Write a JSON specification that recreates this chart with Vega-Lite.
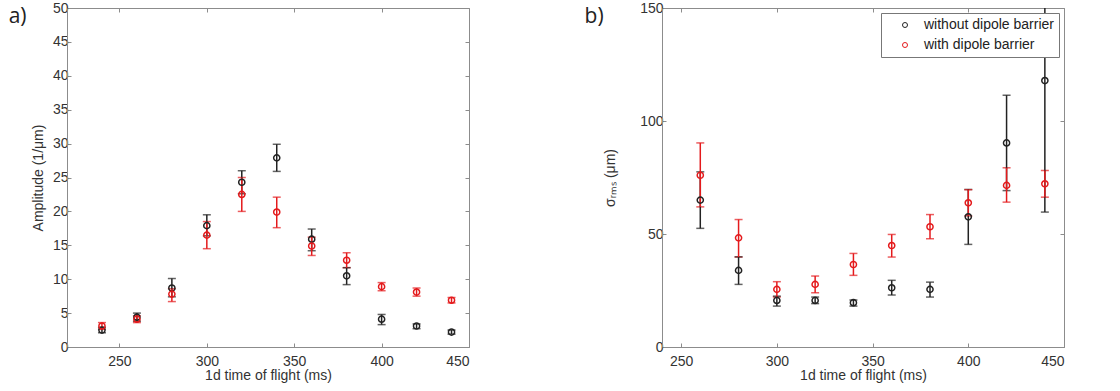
{
  "$schema": "https://vega.github.io/schema/vega-lite/v6.json",
  "padding": {"left": 8, "top": 0, "right": 5, "bottom": 5},
  "spacing": 114,
  "config": {
    "font": "Liberation Sans",
    "view": {"stroke": "#8c8c8c", "strokeWidth": 1},
    "axis": {
      "grid": false,
      "domainColor": "#8c8c8c",
      "tickColor": "#8c8c8c",
      "tickSize": -4,
      "labelPadding": 11,
      "labelFontSize": 14,
      "labelColor": "#333333",
      "titleFontSize": 14,
      "titleFontWeight": "normal",
      "titleColor": "#333333",
      "titlePadding": 0
    },
    "legend": {
      "orient": "top-right",
      "offset": 5,
      "padding": 5,
      "strokeColor": "#777777",
      "fillColor": "white",
      "labelFontSize": 14,
      "labelColor": "#222222",
      "symbolSize": 25,
      "symbolStrokeWidth": 1,
      "symbolType": "circle",
      "rowPadding": 6,
      "symbolOffset": 12,
      "labelOffset": 12
    }
  },
  "datasets": {
    "a": [
      {"t": 240, "s": "without dipole barrier", "v": 2.5, "lo": 2.1, "hi": 2.9},
      {"t": 260, "s": "without dipole barrier", "v": 4.4, "lo": 3.8, "hi": 5.0},
      {"t": 280, "s": "without dipole barrier", "v": 8.7, "lo": 7.4, "hi": 10.1},
      {"t": 300, "s": "without dipole barrier", "v": 17.9, "lo": 16.4, "hi": 19.5},
      {"t": 320, "s": "without dipole barrier", "v": 24.3, "lo": 22.6, "hi": 26.0},
      {"t": 340, "s": "without dipole barrier", "v": 27.9, "lo": 25.9, "hi": 29.9},
      {"t": 360, "s": "without dipole barrier", "v": 15.9, "lo": 14.2, "hi": 17.4},
      {"t": 380, "s": "without dipole barrier", "v": 10.5, "lo": 9.2, "hi": 11.7},
      {"t": 400, "s": "without dipole barrier", "v": 4.1, "lo": 3.3, "hi": 4.8},
      {"t": 420, "s": "without dipole barrier", "v": 3.1, "lo": 2.7, "hi": 3.4},
      {"t": 440, "s": "without dipole barrier", "v": 2.2, "lo": 1.9, "hi": 2.5},
      {"t": 240, "s": "with dipole barrier", "v": 3.1, "lo": 2.6, "hi": 3.6},
      {"t": 260, "s": "with dipole barrier", "v": 4.1, "lo": 3.6, "hi": 4.6},
      {"t": 280, "s": "with dipole barrier", "v": 7.8, "lo": 6.7, "hi": 8.6},
      {"t": 300, "s": "with dipole barrier", "v": 16.5, "lo": 14.5, "hi": 18.5},
      {"t": 320, "s": "with dipole barrier", "v": 22.5, "lo": 20.0, "hi": 25.0},
      {"t": 340, "s": "with dipole barrier", "v": 19.9, "lo": 17.6, "hi": 22.1},
      {"t": 360, "s": "with dipole barrier", "v": 14.9, "lo": 13.5, "hi": 16.2},
      {"t": 380, "s": "with dipole barrier", "v": 12.8, "lo": 11.7, "hi": 13.9},
      {"t": 400, "s": "with dipole barrier", "v": 8.9, "lo": 8.3, "hi": 9.5},
      {"t": 420, "s": "with dipole barrier", "v": 8.1, "lo": 7.5, "hi": 8.7},
      {"t": 440, "s": "with dipole barrier", "v": 6.9, "lo": 6.5, "hi": 7.3}
    ],
    "b": [
      {"t": 260, "s": "without dipole barrier", "v": 65.0, "lo": 52.5, "hi": 77.5},
      {"t": 280, "s": "without dipole barrier", "v": 33.9, "lo": 27.7, "hi": 39.9},
      {"t": 300, "s": "without dipole barrier", "v": 20.6, "lo": 18.1, "hi": 22.5},
      {"t": 320, "s": "without dipole barrier", "v": 20.6, "lo": 19.2, "hi": 22.1},
      {"t": 340, "s": "without dipole barrier", "v": 19.6, "lo": 18.1, "hi": 20.8},
      {"t": 360, "s": "without dipole barrier", "v": 26.2, "lo": 23.0, "hi": 29.5},
      {"t": 380, "s": "without dipole barrier", "v": 25.5, "lo": 22.1, "hi": 28.7},
      {"t": 400, "s": "without dipole barrier", "v": 57.6, "lo": 45.4, "hi": 69.7},
      {"t": 420, "s": "without dipole barrier", "v": 90.3, "lo": 69.2, "hi": 111.4},
      {"t": 440, "s": "without dipole barrier", "v": 117.9, "lo": 59.7, "hi": 176.1},
      {"t": 260, "s": "with dipole barrier", "v": 76.0, "lo": 62.0, "hi": 90.3},
      {"t": 280, "s": "with dipole barrier", "v": 48.3, "lo": 39.8, "hi": 56.4},
      {"t": 300, "s": "with dipole barrier", "v": 25.5, "lo": 22.1, "hi": 28.9},
      {"t": 320, "s": "with dipole barrier", "v": 27.7, "lo": 24.0, "hi": 31.4},
      {"t": 340, "s": "with dipole barrier", "v": 36.5, "lo": 31.7, "hi": 41.4},
      {"t": 360, "s": "with dipole barrier", "v": 44.9, "lo": 39.8, "hi": 49.8},
      {"t": 380, "s": "with dipole barrier", "v": 53.2, "lo": 47.9, "hi": 58.6},
      {"t": 400, "s": "with dipole barrier", "v": 63.8, "lo": 58.0, "hi": 69.6},
      {"t": 420, "s": "with dipole barrier", "v": 71.5, "lo": 64.1, "hi": 79.3},
      {"t": 440, "s": "with dipole barrier", "v": 72.2, "lo": 66.3, "hi": 78.1}
    ]
  },
  "hconcat": [
    {
      "width": 402,
      "height": 339,
      "data": {"name": "a"},
      "title": {"text": "a)", "orient": "left", "anchor": "end", "angle": 0, "fontSize": 21, "fontWeight": "normal", "font": "Open Sans", "baseline": "top", "align": "right", "offset": -13, "dy": 5, "color": "#222222"},
      "layer": [
        {
          "mark": {"type": "errorbar", "ticks": {"size": 8}, "thickness": 1.5},
          "encoding": {
            "x": {"field": "t", "type": "quantitative", "scale": {"domain": [220, 450], "nice": false, "zero": false}, "axis": {"values": [250, 300, 350, 400, 450], "title": "1d time of flight (ms)"}},
            "y": {"field": "lo", "type": "quantitative", "scale": {"domain": [0, 50], "nice": false}, "axis": {"values": [0, 5, 10, 15, 20, 25, 30, 35, 40, 45, 50], "title": "Amplitude (1/μm)", "labelPadding": 3, "titlePadding": 7}},
            "y2": {"field": "hi"},
            "color": {"field": "s", "type": "nominal", "scale": {"domain": ["without dipole barrier", "with dipole barrier"], "range": ["#222222", "#e41a1c"]}, "legend": null}
          }
        },
        {
          "mark": {"type": "point", "shape": "circle", "filled": false, "size": 38, "strokeWidth": 1.5, "opacity": 1},
          "encoding": {
            "x": {"field": "t", "type": "quantitative", "axis": null},
            "y": {"field": "v", "type": "quantitative", "axis": null},
            "color": {"field": "s", "type": "nominal", "scale": {"domain": ["without dipole barrier", "with dipole barrier"], "range": ["#222222", "#e41a1c"]}, "legend": {"title": null}}
          }
        },
        {
          "mark": {"type": "point", "opacity": 0},
          "encoding": {
            "x": {"field": "t", "type": "quantitative", "axis": {"orient": "top", "values": [250, 300, 350, 400, 450], "labels": false, "title": null, "domain": false}},
            "y": {"field": "v", "type": "quantitative", "axis": {"orient": "right", "values": [0, 5, 10, 15, 20, 25, 30, 35, 40, 45, 50], "labels": false, "title": null, "domain": false}}
          }
        }
      ],
      "resolve": {"axis": {"x": "independent", "y": "independent"}}
    },
    {
      "width": 402,
      "height": 339,
      "data": {"name": "b"},
      "title": {"text": "b)", "orient": "left", "anchor": "end", "angle": 0, "fontSize": 21, "fontWeight": "normal", "font": "Open Sans", "baseline": "top", "align": "right", "offset": -19, "dy": 5, "color": "#222222"},
      "layer": [
        {
          "mark": {"type": "errorbar", "ticks": {"size": 8}, "thickness": 1.5, "clip": true},
          "encoding": {
            "x": {"field": "t", "type": "quantitative", "scale": {"domain": [240, 450], "nice": false, "zero": false}, "axis": {"values": [250, 300, 350, 400, 450], "title": "1d time of flight (ms)"}},
            "y": {"field": "lo", "type": "quantitative", "scale": {"domain": [0, 150], "nice": false}, "axis": {"values": [0, 50, 100, 150], "title": "σᵣₘₛ (μm)", "titlePadding": 22, "labelPadding": 3}},
            "y2": {"field": "hi"},
            "color": {"field": "s", "type": "nominal", "scale": {"domain": ["without dipole barrier", "with dipole barrier"], "range": ["#222222", "#e41a1c"]}, "legend": null}
          }
        },
        {
          "mark": {"type": "point", "shape": "circle", "filled": false, "size": 38, "strokeWidth": 1.5, "opacity": 1, "clip": true},
          "encoding": {
            "x": {"field": "t", "type": "quantitative", "axis": null},
            "y": {"field": "v", "type": "quantitative", "axis": null},
            "color": {"field": "s", "type": "nominal", "scale": {"domain": ["without dipole barrier", "with dipole barrier"], "range": ["#222222", "#e41a1c"]}, "legend": {"title": null}}
          }
        },
        {
          "mark": {"type": "point", "opacity": 0},
          "encoding": {
            "x": {"field": "t", "type": "quantitative", "axis": {"orient": "top", "values": [250, 300, 350, 400, 450], "labels": false, "title": null, "domain": false}},
            "y": {"field": "v", "type": "quantitative", "axis": {"orient": "right", "values": [0, 50, 100, 150], "labels": false, "title": null, "domain": false}}
          }
        }
      ],
      "resolve": {"axis": {"x": "independent", "y": "independent"}, "scale": {"color": "independent"}, "legend": {"color": "independent"}}
    }
  ],
  "resolve": {"scale": {"color": "independent"}, "legend": {"color": "independent"}}
}
